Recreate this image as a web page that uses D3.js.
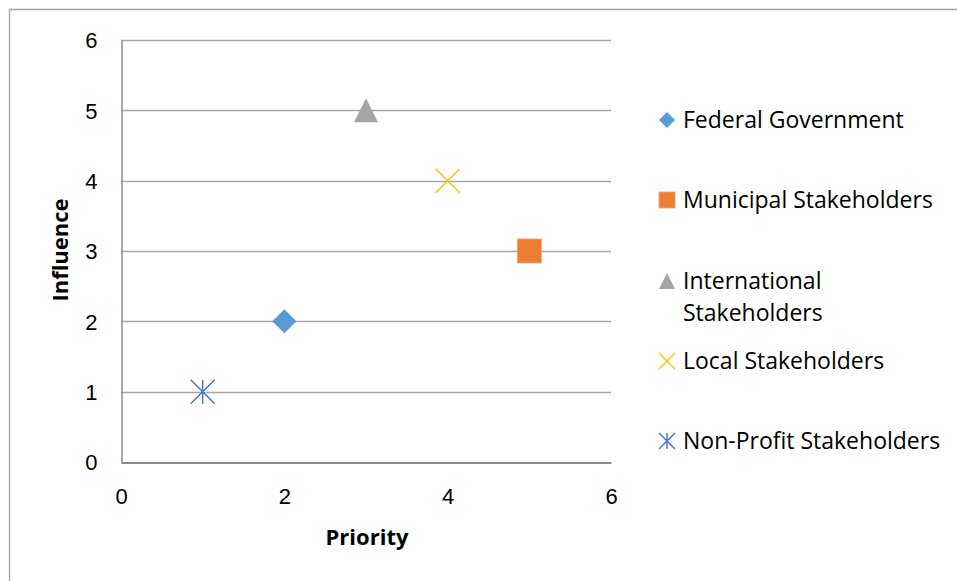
<!DOCTYPE html>
<html>
<head>
<meta charset="utf-8">
<script src="https://cdn.jsdelivr.net/npm/d3@7"></script>
<style>
  html, body { margin: 0; padding: 0; background: #fff; }
  svg { display: block; font-family: "Open Sans", Lato, sans-serif; }
</style>
</head>
<body>
<svg id="chart" width="957" height="581"></svg>
<script>
// Stakeholder mapping: priority (x) vs influence (y)
const seriesNames = ["Federal Government", "Municipal Stakeholders", "International Stakeholders", "Local Stakeholders", "Non-Profit Stakeholders"];
const priority = [2, 5, 3, 4, 1];
const influence = [2, 3, 5, 4, 1];
const seriesColors = ["#5B9BD5", "#ED7D31", "#A5A5A5", "#FFC000", "#4472C4"];
const markerKinds = ["diamond", "square", "triangle", "x", "star"];
const xTicks = [0, 2, 4, 6];
const yTicks = [0, 1, 2, 3, 4, 5, 6];

const svg = d3.select("#chart");
const W = 957, H = 581;

// chart frame
svg.append("path")
  .attr("d", `M9.5,${H} V9.5 H${W}`)
  .attr("fill", "none").attr("stroke", "#a0a0a0").attr("stroke-width", 1.3);

const plot = { left: 121, right: 611, top: 40, bottom: 462 };
const x = d3.scaleLinear().domain([0, 6]).range([plot.left, plot.right]);
const y = d3.scaleLinear().domain([0, 6]).range([plot.bottom, plot.top]);

// horizontal gridlines
svg.append("g").selectAll("line").data(yTicks.filter(t => t > 0)).join("line")
  .attr("x1", plot.left).attr("x2", plot.right)
  .attr("y1", d => Math.round(y(d)) + 0.5).attr("y2", d => Math.round(y(d)) + 0.5)
  .attr("stroke", "#a6a6a6").attr("stroke-width", 1.3);

// y axis
const yAxis = svg.append("g").attr("transform", `translate(${plot.left + 0.5},0)`)
  .call(d3.axisLeft(y).tickValues(yTicks).tickSize(0).tickPadding(24).tickFormat(d3.format("d")));
yAxis.select(".domain").attr("stroke", "#8c8c8c").attr("stroke-width", 1.5);
yAxis.selectAll("text").attr("font-size", 22).attr("fill", "#000").attr("dy", "0.35em")
  .style("font-family", "inherit");

// x axis
const xAxis = svg.append("g").attr("transform", `translate(0,${plot.bottom + 0.5})`)
  .call(d3.axisBottom(x).tickValues(xTicks).tickSize(0).tickPadding(26).tickFormat(d3.format("d")));
xAxis.select(".domain").attr("stroke", "#8c8c8c").attr("stroke-width", 1.8);
xAxis.selectAll("text").attr("font-size", 22).attr("fill", "#000").attr("dy", "0.71em")
  .style("font-family", "inherit");

// axis titles
svg.append("text").attr("x", 367).attr("y", 545)
  .attr("text-anchor", "middle").attr("font-size", 22).attr("font-weight", "bold").text("Priority");
svg.append("text").attr("transform", `translate(68,250) rotate(-90)`)
  .attr("text-anchor", "middle").attr("font-size", 22).attr("font-weight", "bold").text("Influence");

// marker drawing
function drawMarker(g, kind, color, s) {
  const h = s / 2;
  if (kind === "diamond") {
    g.append("path").attr("d", `M0,${-h} L${h},0 L0,${h} L${-h},0 Z`).attr("fill", color);
  } else if (kind === "square") {
    g.append("rect").attr("x", -h).attr("y", -h).attr("width", s).attr("height", s)
      .attr("fill", color).attr("stroke", "#f4a070").attr("stroke-width", 0.8);
  } else if (kind === "triangle") {
    g.append("path").attr("d", `M0,${-h} L${h},${h} L${-h},${h} Z`).attr("fill", color);
  } else if (kind === "x") {
    g.append("path").attr("d", `M${-h},${-h} L${h},${h} M${h},${-h} L${-h},${h}`)
      .attr("stroke", color).attr("stroke-width", 1.4).attr("fill", "none");
  } else if (kind === "star") {
    g.append("path").attr("d", `M${-h},${-h} L${h},${h} M${h},${-h} L${-h},${h} M0,${-h} L0,${h}`)
      .attr("stroke", color).attr("stroke-width", 1.4).attr("fill", "none");
  }
}

// data points
const pts = svg.append("g");
seriesNames.forEach((name, i) => {
  const g = pts.append("g").attr("transform", `translate(${x(priority[i])},${y(influence[i])})`);
  drawMarker(g, markerKinds[i], seriesColors[i], 24);
});

// legend
const legendRows = [
  { lines: ["Federal Government"], y: 120 },
  { lines: ["Municipal Stakeholders"], y: 200 },
  { lines: ["International", "Stakeholders"], y: 281 },
  { lines: ["Local Stakeholders"], y: 361 },
  { lines: ["Non-Profit Stakeholders"], y: 441 }
];
const legend = svg.append("g");
legendRows.forEach((row, i) => {
  const g = legend.append("g").attr("transform", `translate(667,${row.y})`);
  drawMarker(g, markerKinds[i], seriesColors[i], 16);
  const t = g.append("text").attr("x", 16).attr("y", 0).attr("font-size", 23).attr("fill", "#000");
  row.lines.forEach((ln, j) => {
    t.append("tspan").attr("x", 16).attr("dy", j === 0 ? "0.35em" : "1.4em").text(ln);
  });
});
</script>
</body>
</html>
